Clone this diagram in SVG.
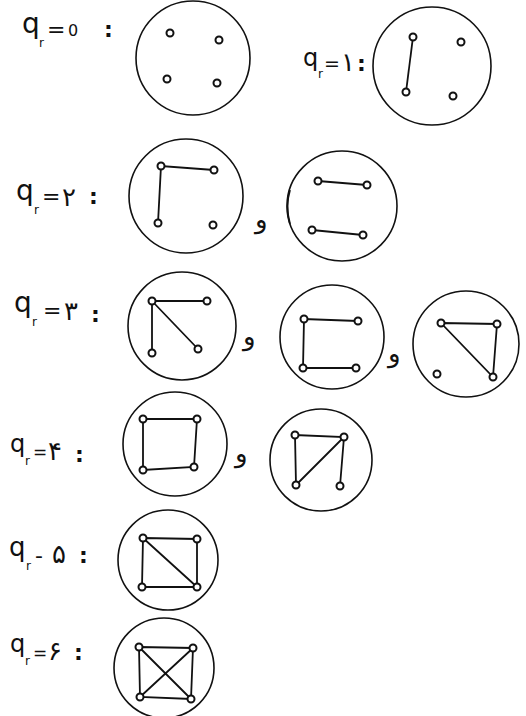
<svg xmlns="http://www.w3.org/2000/svg" width="526" height="716" viewBox="0 0 526 716">
<style>
.ring{fill:none;stroke:#111;stroke-width:1.6}
.v{fill:#fff;stroke:#111;stroke-width:2}
.e{stroke:#111;stroke-width:1.8;fill:none}
.lbl text{font-family:"DejaVu Sans",sans-serif;fill:#111}
.q{font-size:28px}
.sub{font-size:12px}
.eq{font-size:22px}
.d{font-size:26px}
.c{font-size:22px;font-weight:bold}
.and{font-family:"DejaVu Sans",sans-serif;font-size:26px;fill:#111}
</style>
<rect width="526" height="716" fill="#fff"/>

<g id="label0" class="lbl"><text class="q" x="22" y="33">q</text><text class="sub" x="39" y="47">r</text><text class="eq" x="47" y="37">=</text><text class="d" x="68" y="36" style="font-size:16px">0</text><text class="c" x="104" y="37">:</text></g>
<g id="g0">
<circle class="ring" cx="193" cy="58" r="57"/>
<circle class="v" cx="170" cy="33" r="3.5"/><circle class="v" cx="219" cy="40" r="3.5"/><circle class="v" cx="167" cy="79" r="3.5"/><circle class="v" cx="217" cy="83" r="3.5"/>
</g>

<g id="label1" class="lbl"><text class="q" x="303" y="66" style="font-size:24px">q</text><text class="sub" x="318" y="78">r</text><text class="eq" x="324" y="70" style="font-size:19px">=</text><text class="d" x="341" y="71">۱</text><text class="c" x="357" y="71">:</text></g>
<g id="g1">
<circle class="ring" cx="432" cy="66" r="59"/>
<line class="e" x1="413" y1="37" x2="406" y2="92"/>
<circle class="v" cx="413" cy="37" r="3.5"/><circle class="v" cx="461" cy="42" r="3.5"/><circle class="v" cx="406" cy="92" r="3.5"/><circle class="v" cx="453" cy="96" r="3.5"/>
</g>

<g id="label2" class="lbl"><text class="q" x="16" y="200">q</text><text class="sub" x="34" y="214">r</text><text class="eq" x="42" y="204">=</text><text class="d" x="62" y="206">۲</text><text class="c" x="89" y="204">:</text></g>
<g id="g2a">
<circle class="ring" cx="186" cy="196" r="57"/>
<path class="e" d="M158 223L161 166L214 170"/>
<circle class="v" cx="161" cy="166" r="3.5"/><circle class="v" cx="214" cy="170" r="3.5"/><circle class="v" cx="158" cy="223" r="3.5"/><circle class="v" cx="213" cy="225" r="3.5"/>
</g>
<text class="and" x="255" y="228">و</text>
<g id="g2b">
<circle class="ring" cx="342" cy="206" r="55"/>
<path class="e" d="M290 190Q285 206 290 224"/>
<line class="e" x1="318" y1="181" x2="367" y2="185"/>
<line class="e" x1="312" y1="230" x2="363" y2="235"/>
<circle class="v" cx="318" cy="181" r="3.5"/><circle class="v" cx="367" cy="185" r="3.5"/><circle class="v" cx="312" cy="230" r="3.5"/><circle class="v" cx="363" cy="235" r="3.5"/>
</g>

<g id="label3" class="lbl"><text class="q" x="14" y="312">q</text><text class="sub" x="32" y="326">r</text><text class="eq" x="43" y="318">=</text><text class="d" x="64" y="320">۳</text><text class="c" x="91" y="322">:</text></g>
<g id="g3a">
<circle class="ring" cx="182" cy="326" r="54"/>
<path class="e" d="M152 353L152 301L207 301M152 301L198 349"/>
<circle class="v" cx="152" cy="301" r="3.5"/><circle class="v" cx="207" cy="301" r="3.5"/><circle class="v" cx="152" cy="353" r="3.5"/><circle class="v" cx="198" cy="349" r="3.5"/>
</g>
<text class="and" x="243" y="345">و</text>
<g id="g3b">
<circle class="ring" cx="332" cy="337" r="52"/>
<path class="e" d="M358 321L304 319L303 368L356 368"/>
<circle class="v" cx="304" cy="319" r="3.5"/><circle class="v" cx="358" cy="321" r="3.5"/><circle class="v" cx="303" cy="368" r="3.5"/><circle class="v" cx="356" cy="368" r="3.5"/>
</g>
<text class="and" x="388" y="362">و</text>
<g id="g3c">
<circle class="ring" cx="466" cy="344" r="53"/>
<path class="e" d="M441 323L497 324L493 377Z"/>
<circle class="v" cx="441" cy="323" r="3.5"/><circle class="v" cx="497" cy="324" r="3.5"/><circle class="v" cx="493" cy="377" r="3.5"/><circle class="v" cx="437" cy="374" r="3.5"/>
</g>

<g id="label4" class="lbl"><text class="q" x="10" y="452" style="font-size:24px">q</text><text class="sub" x="25" y="465">r</text><text class="eq" x="33" y="458" style="font-size:17px">=</text><text class="d" x="48" y="460">۴</text><text class="c" x="75" y="462">:</text></g>
<g id="g4a">
<circle class="ring" cx="175" cy="444" r="52"/>
<path class="e" d="M143 419L197 419L194 467L143 470Z"/>
<circle class="v" cx="143" cy="419" r="3.5"/><circle class="v" cx="197" cy="419" r="3.5"/><circle class="v" cx="143" cy="470" r="3.5"/><circle class="v" cx="194" cy="467" r="3.5"/>
</g>
<text class="and" x="235" y="462">و</text>
<g id="g4b">
<circle class="ring" cx="321" cy="460" r="51"/>
<path class="e" d="M296 485L295 435L344 437L296 485M344 437L340 486"/>
<circle class="v" cx="295" cy="435" r="3.5"/><circle class="v" cx="344" cy="437" r="3.5"/><circle class="v" cx="296" cy="485" r="3.5"/><circle class="v" cx="340" cy="486" r="3.5"/>
</g>

<g id="label5" class="lbl"><text class="q" x="9" y="556" style="font-size:26px">q</text><text class="sub" x="26" y="570">r</text><text class="eq" x="35" y="563">-</text><text class="d" x="52" y="563">۵</text><text class="c" x="79" y="563">:</text></g>
<g id="g5">
<circle class="ring" cx="168" cy="560" r="50"/>
<path class="e" d="M143 538L197 539L197 587L142 587Z M143 538L197 587"/>
<circle class="v" cx="143" cy="538" r="3.5"/><circle class="v" cx="197" cy="539" r="3.5"/><circle class="v" cx="142" cy="587" r="3.5"/><circle class="v" cx="197" cy="587" r="3.5"/>
</g>

<g id="label6" class="lbl"><text class="q" x="10" y="652" style="font-size:24px">q</text><text class="sub" x="25" y="665">r</text><text class="eq" x="33" y="659" style="font-size:17px">=</text><text class="d" x="48" y="660">۶</text><text class="c" x="74" y="660">:</text></g>
<g id="g6">
<circle class="ring" cx="164" cy="668" r="50"/>
<path class="e" d="M139 647L193 648L191 699L140 697Z M139 647L191 699 M193 648L140 697"/>
<circle class="v" cx="139" cy="647" r="3.5"/><circle class="v" cx="193" cy="648" r="3.5"/><circle class="v" cx="140" cy="697" r="3.5"/><circle class="v" cx="191" cy="699" r="3.5"/>
</g>
</svg>
